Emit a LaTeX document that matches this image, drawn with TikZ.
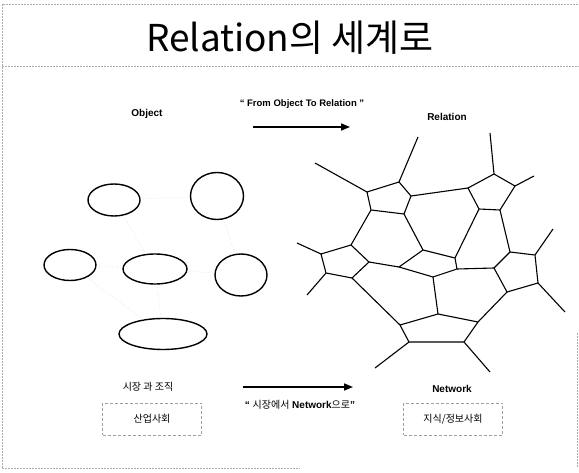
\documentclass[tikz,border=0pt]{standalone}
\usepackage{fontspec}
\setmainfont{Liberation Sans}
\newfontfamily\kr{Noto Sans CJK KR}
\usetikzlibrary{arrows.meta,shapes.geometric}
\begin{document}
\begin{tikzpicture}[x=1pt,y=-1pt,
  frame/.style={draw=gray!65,line width=0.8pt,dash pattern=on 2pt off 1pt},
  obj/.style={draw,ellipse,line width=1.4pt,inner sep=0pt},
  net/.style={line width=1.1pt,line join=round},
  bigarrow/.style={line width=1.6pt,-{Triangle[length=9pt,width=7pt]}},
  lbl/.style={font=\bfseries\fontsize{10}{12}\selectfont},
  krl/.style={font=\kr\fontsize{10}{12}\selectfont},
  soc/.style={draw=gray!75,densely dashed,line width=0.6pt,minimum width=99pt,minimum height=32pt,font=\kr\fontsize{10}{12}\selectfont},
  faint/.style={gray!28,dotted,line width=0.6pt}
]
\useasboundingbox (0,0) rectangle (579,473);
% frame
\draw[frame] (2,468) -- (2,4) -- (579,4);
\draw[frame] (2,66) -- (579,66);
\draw[frame] (2,468) -- (300,468);
\draw[frame] (577,333) -- (577,468);
% title
\node[font=\kr\fontsize{37}{40}\selectfont] (title) at (290,38) {Relation의 세계로};
% top labels
\node[lbl] (object) at (147,114) {Object};
\node[font=\bfseries\fontsize{9.5}{11}\selectfont] (fromto) at (302,104) {“ From Object To Relation ”};
\coordinate (ar1s) at (253,127);
\coordinate (ar1e) at (350,127);
\draw[bigarrow] (ar1s) -- (ar1e);
\node[lbl] (relation) at (447,117) {Relation};
% ellipses
\node[obj,minimum width=52pt,minimum height=32pt] (o1) at (114,200) {};
\node[obj,minimum width=53pt,minimum height=47pt] (o2) at (217,196) {};
\node[obj,minimum width=52pt,minimum height=31pt] (o3) at (70,265) {};
\node[obj,minimum width=64pt,minimum height=30pt] (o4) at (155,269) {};
\node[obj,minimum width=52pt,minimum height=42pt] (o5) at (241,275) {};
\node[obj,minimum width=88pt,minimum height=31pt] (o6) at (163,334) {};
\draw[faint] (o1) -- (o2);
\draw[faint] (o1) -- (o4);
\draw[faint] (o3) -- (o4);
\draw[faint] (o4) -- (o5);
\draw[faint] (o2) -- (o5);
\draw[faint] (o3) -- (o6);
\draw[faint] (o4) -- (o6);
% network vertices
\coordinate (a1) at (367,192); \coordinate (a2) at (399,182); \coordinate (a3) at (411,196); \coordinate (a4) at (404,214); \coordinate (a5) at (371,210);
\coordinate (b1) at (468,188); \coordinate (b2) at (494,174); \coordinate (b3) at (515,186); \coordinate (b4) at (500,210); \coordinate (b5) at (479,209);
\coordinate (c1) at (321,254); \coordinate (c2) at (351,245); \coordinate (c3) at (369,262); \coordinate (c4) at (352,278); \coordinate (c5) at (326,273);
\coordinate (d1) at (400,325); \coordinate (d2) at (438,314); \coordinate (d3) at (478,322); \coordinate (d4) at (464,342); \coordinate (d5) at (409,342);
\coordinate (e1) at (494,268); \coordinate (e2) at (510,252); \coordinate (e3) at (535,255); \coordinate (e4) at (538,283); \coordinate (e5) at (507,292);
\coordinate (f1) at (399,267); \coordinate (f2) at (423,250); \coordinate (f3) at (455,258); \coordinate (f4) at (457,269); \coordinate (f5) at (433,277);
% spoke ends
\coordinate (s1) at (315,163); \coordinate (s2) at (418,137); \coordinate (s3) at (490,133); \coordinate (s4) at (534,176);
\coordinate (s5) at (553,229); \coordinate (s6) at (565,312); \coordinate (s7) at (375,368); \coordinate (s8) at (490,372);
\coordinate (s9) at (297,243); \coordinate (s10) at (307,295);
% pentagons
\draw[net] (a1) -- (a2) -- (a3) -- (a4) -- (a5) -- cycle;
\draw[net] (b1) -- (b2) -- (b3) -- (b4) -- (b5) -- cycle;
\draw[net] (c1) -- (c2) -- (c3) -- (c4) -- (c5) -- cycle;
\draw[net] (d1) -- (d2) -- (d3) -- (d4) -- (d5) -- cycle;
\draw[net] (e1) -- (e2) -- (e3) -- (e4) -- (e5) -- cycle;
\draw[net] (f1) -- (f2) -- (f3) -- (f4) -- (f5) -- cycle;
% links
\draw[net] (a3) -- (b1);
\draw[net] (a5) -- (c2);
\draw[net] (a4) -- (f2);
\draw[net] (b5) -- (f3);
\draw[net] (b4) -- (e2);
\draw[net] (c3) -- (f1);
\draw[net] (c4) -- (d1);
\draw[net] (f5) -- (d2);
\draw[net] (f4) -- (e1);
\draw[net] (e5) -- (d3);
% spokes
\draw[net] (a1) -- (s1);
\draw[net] (a2) -- (s2);
\draw[net] (b2) -- (s3);
\draw[net] (b3) -- (s4);
\draw[net] (e3) -- (s5);
\draw[net] (e4) -- (s6);
\draw[net] (d5) -- (s7);
\draw[net] (d4) -- (s8);
\draw[net] (c1) -- (s9);
\draw[net] (c5) -- (s10);
% bottom
\node[krl] (market) at (148,387) {시장 과 조직};
\node[soc] (ind) at (152,419) {산업사회};
\coordinate (ar2s) at (243,387);
\coordinate (ar2e) at (353,387);
\draw[bigarrow] (ar2s) -- (ar2e);
\node[font=\fontsize{10}{12}\selectfont] (from2) at (300,405) {\textbf{“} {\kr 시장에서} \textbf{Network}{\kr 으로}\textbf{”}};
\node[lbl] (network) at (452,389) {Network};
\node[soc] (info) at (453,419) {지식/정보사회};
\end{tikzpicture}
\end{document}
